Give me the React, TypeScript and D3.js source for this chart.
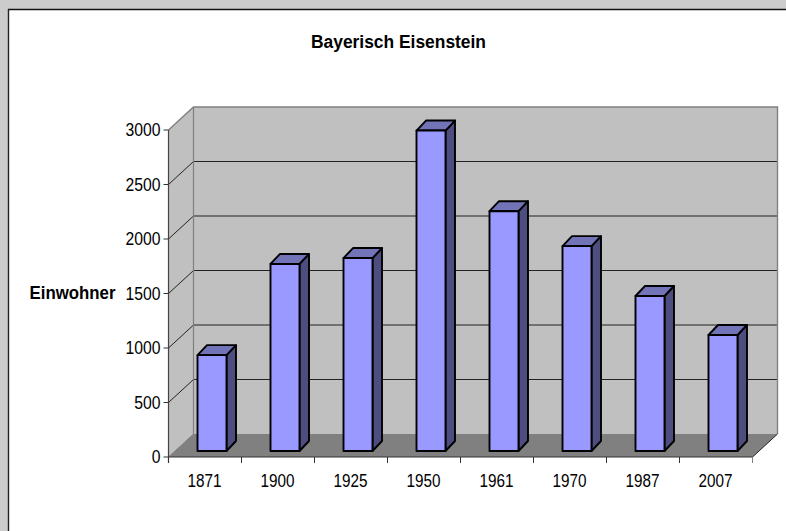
import React from "react";
import * as d3 from "d3";

const years = ["1871", "1900", "1925", "1950", "1961", "1970", "1987", "2007"];
const population = [880, 1716, 1770, 2940, 2200, 1880, 1422, 1064];
const yTicks = [0, 500, 1000, 1500, 2000, 2500, 3000];
const title = "Bayerisch Eisenstein";
const yTitle = "Einwohner";

const W = 786, H = 531;
const x0 = 168.5, x1 = 752.5;
const yBase = 457, yTop = 130;
const dx = 25, dy = -23;
const barDx = 9.5, barDy = -10;
const barBaseShift = -6;

const x = d3.scaleBand<string>().domain(years).range([x0, x1]);
const y = d3.scaleLinear().domain([0, 3000]).range([yBase, yTop]);
const poly = d3.line();

const font = "'Liberation Sans', Arial, sans-serif";

export default function App() {
  const barW = 29;
  const barOffset = 29;
  return (
    <svg width={W} height={H} viewBox={`0 0 ${W} ${H}`} fontFamily={font}
      style={{ position: "absolute", left: 0, top: 0, display: "block" }}>
      <rect x={0} y={0} width={W} height={H} fill="#cccccc" />
      <rect x={8} y={10} width={W - 8} height={H - 10} fill="#ffffff" />
      <line x1={8} x2={W} y1={9.5} y2={9.5} stroke="#111" strokeWidth={1.6} />
      <line x1={8.5} x2={8.5} y1={9} y2={H} stroke="#222" strokeWidth={1.4} />

      <text x={398.5} y={48} textAnchor="middle" fontSize={18} fontWeight="bold" fill="#000"
        textLength={175} lengthAdjust="spacingAndGlyphs">{title}</text>
      <text x={72.5} y={299} textAnchor="middle" fontSize={18} fontWeight="bold" fill="#000"
        textLength={86} lengthAdjust="spacingAndGlyphs">{yTitle}</text>

      {/* back wall */}
      <path d={poly([[x0 + dx, yBase + dy], [x1 + dx, yBase + dy], [x1 + dx, yTop + dy], [x0 + dx, yTop + dy]])! + "Z"}
        fill="#c0c0c0" />
      {/* side wall */}
      <path d={poly([[x0, yBase], [x0 + dx, yBase + dy], [x0 + dx, yTop + dy], [x0, yTop]])! + "Z"} fill="#c0c0c0" />
      {/* floor */}
      <path d={poly([[x0, yBase], [x1, yBase], [x1 + dx, yBase + dy], [x0 + dx, yBase + dy]])! + "Z"} fill="#808080" />

      {/* gridlines */}
      {yTicks.slice(1, -1).map((t) => (
        <path key={t} d={poly([[x0, y(t)], [x0 + dx, y(t) + dy], [x1 + dx, y(t) + dy]])!}
          fill="none" stroke="#222" strokeWidth={1} />
      ))}

      {/* wall outlines */}
      <path d={poly([[x0, yTop], [x0 + dx, yTop + dy], [x1 + dx, yTop + dy], [x1 + dx, yBase + dy]])!}
        fill="none" stroke="#808080" strokeWidth={1.4} />
      <line x1={x0 + dx} x2={x0 + dx} y1={yTop + dy} y2={yBase + dy} stroke="#808080" strokeWidth={1.2} />
      <path d={poly([[x0, yBase], [x0 + dx, yBase + dy]])!} stroke="#808080" fill="none" />
      <path d={poly([[x1, yBase], [x1 + dx, yBase + dy]])!} stroke="#222" fill="none" />

      {/* bars */}
      {years.map((yr, i) => {
        const l = x(yr)! + barOffset;
        const r = l + barW;
        const b = yBase + barBaseShift;
        const t = y(population[i]) + barBaseShift;
        return (
          <g key={yr} stroke="#000" strokeWidth={1.9} strokeLinejoin="round">
            <path d={poly([[r, b], [r + barDx, b + barDy], [r + barDx, t + barDy], [r, t]])! + "Z"} fill="#4d4d80" />
            <path d={poly([[l, t], [l + barDx, t + barDy], [r + barDx, t + barDy], [r, t]])! + "Z"} fill="#7373b8" />
            <rect x={l} y={t} width={barW} height={b - t} fill="#9999ff" />
          </g>
        );
      })}

      {/* axes */}
      <line x1={x0} x2={x0} y1={yTop} y2={yBase + 6} stroke="#444" strokeWidth={1.2} />
      <line x1={x0} x2={x1} y1={yBase} y2={yBase} stroke="#333" strokeWidth={1.2} />
      {yTicks.map((t) => (
        <g key={t}>
          <line x1={x0 - 5} x2={x0} y1={y(t)} y2={y(t)} stroke="#333" />
          <text x={160.5} y={y(t) + 6} textAnchor="end" fontSize={18} fill="#000"
            textLength={String(t).length * 8.75} lengthAdjust="spacingAndGlyphs">{t}</text>
        </g>
      ))}
      {[...years.map((yr) => x(yr)!), x1].map((px, i) => (
        <line key={i} x1={px} x2={px} y1={yBase} y2={yBase + 6} stroke={i === years.length ? "#808080" : "#333"} />
      ))}
      {years.map((yr) => (
        <text key={yr} x={x(yr)! + x.bandwidth() / 2 - 0.5} y={487} textAnchor="middle" fontSize={18} fill="#000"
          textLength={34} lengthAdjust="spacingAndGlyphs">{yr}</text>
      ))}
    </svg>
  );
}
